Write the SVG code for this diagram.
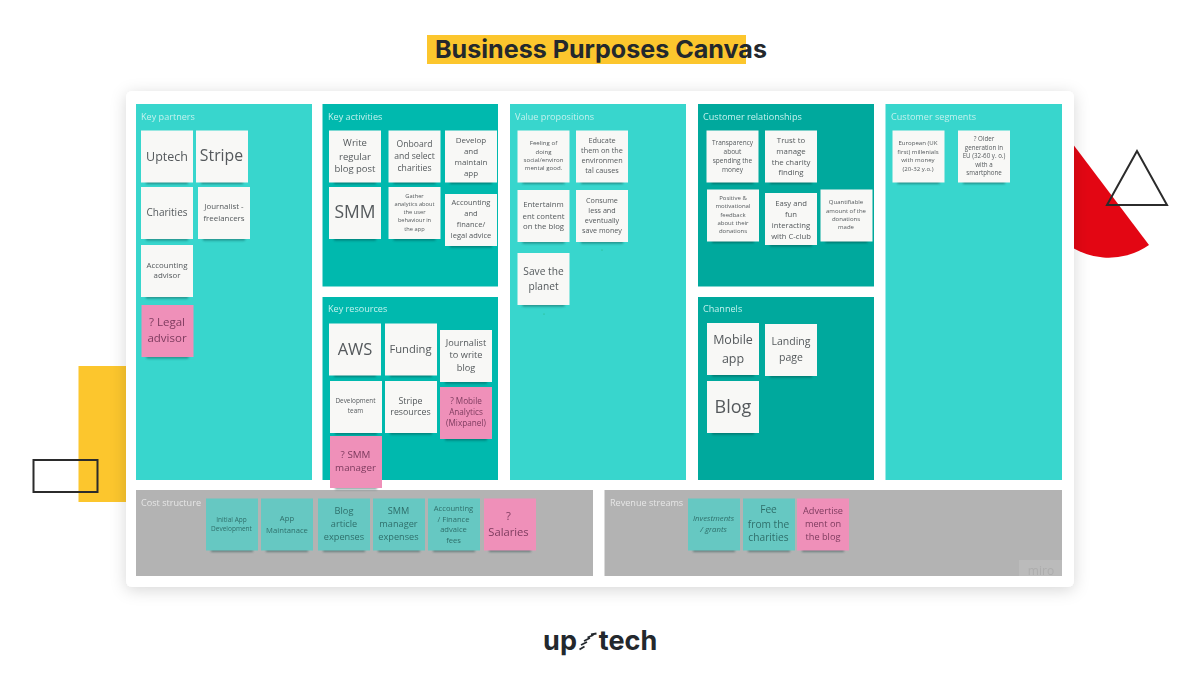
<svg xmlns="http://www.w3.org/2000/svg" width="1200" height="688" viewBox="0 0 1200 688">
<style>
text{font-family:"Open Sans","DejaVu Sans",sans-serif;text-anchor:middle;fill:#54595c}
.lbl{text-anchor:start;font-size:9.100px;fill:#c4f2ee}
.glbl{text-anchor:start;font-size:9.100px;fill:#e6e6e6}
.lt{fill:#38d6cd}.md{fill:#00b9ae}.dk{fill:#00a99d}.gr{fill:#b3b3b3}
.tt text{fill:#2f6f6b}.pk text{fill:#7d3b5e}
</style>
<defs>
<filter id="card" x="-5%" y="-5%" width="110%" height="112%"><feDropShadow dx="0" dy="3" stdDeviation="8" flood-color="#000" flood-opacity=".16"/></filter>
<filter id="sb" x="-30%" y="-200%" width="160%" height="500%"><feGaussianBlur stdDeviation="1.100"/></filter>
<filter id="soft" x="0" y="0" width="100%" height="100%"><feGaussianBlur stdDeviation=".4"/></filter>
<g id="n"><rect x="5" y="50" width="42" height="3.500" fill="#0b3a38" opacity=".45" filter="url(#sb)"/><rect width="52" height="52"/></g>
</defs>
<rect width="1200" height="688" fill="#fff"/>
<g id="decor">
<rect x="78.500" y="366" width="50" height="136" fill="#fcc62d"/>
<path d="M1060 127L1149 245A70 70 0 0 1 1060 238Z" fill="#e30613"/>
</g>
<rect id="card-bg" x="126" y="91" width="948" height="496" rx="6" fill="#fff" filter="url(#card)"/>
<g id="decor-lines" fill="none" stroke="#2b2b2b" stroke-width="2">
<rect x="33.500" y="460" width="64" height="32"/>
<path d="M1137 151L1107 205H1167Z"/>
</g>
<g id="title">
<rect x="427" y="35" width="319" height="29" fill="#fcc62d"/>
<text x="601" y="57.500" textLength="332" lengthAdjust="spacingAndGlyphs" style="font-family:Inter,'Liberation Sans',sans-serif;font-weight:700;font-size:24.500px;fill:#23282d">Business Purposes Canvas</text>
</g>
<g id="board" filter="url(#soft)">
<g id="key-partners"><rect class="lt" x="136" y="104" width="176" height="376"/><text class="lbl" x="141" y="119.500">Key partners</text></g>
<g id="key-activities"><rect class="md" x="322.500" y="104" width="175.500" height="182.500"/><text class="lbl" x="328" y="119.500">Key activities</text></g>
<g id="key-resources"><rect class="md" x="322.500" y="297" width="175.500" height="183"/><text class="lbl" x="328" y="312">Key resources</text></g>
<g id="value-propositions"><rect class="lt" x="510" y="104" width="176" height="376"/><text class="lbl" x="515" y="119.500">Value propositions</text></g>
<g id="customer-relationships"><rect class="dk" x="698" y="104" width="176" height="182.500"/><text class="lbl" x="703" y="119.500">Customer relationships</text></g>
<g id="channels"><rect class="dk" x="698" y="297" width="176" height="183"/><text class="lbl" x="703" y="312">Channels</text></g>
<g id="customer-segments"><rect class="lt" x="885.500" y="104" width="176.500" height="376"/><text class="lbl" x="891" y="119.500">Customer segments</text></g>
<g id="cost-structure"><rect class="gr" x="136" y="490" width="457" height="86"/><text class="glbl" x="141" y="505.500">Cost structure</text></g>
<g id="revenue-streams"><rect class="gr" x="604.500" y="490" width="457.500" height="86"/><text class="glbl" x="610" y="505.500">Revenue streams</text></g>
<g id="miro"><rect x="1019" y="560" width="43" height="16" fill="#bbb"/><text x="1041" y="575" font-size="12" style="fill:#adadad">miro</text></g>

<g fill="#f8f8f6">
<g id="s-uptech"><use href="#n" x="141" y="130.500"/><text x="167" y="161" font-size="12.500">Uptech</text></g>
<g id="s-stripe"><use href="#n" x="196" y="130.500"/><text x="221.500" y="161" font-size="15.800">Stripe</text></g>
<g id="s-charities"><use href="#n" x="141" y="187"/><text x="167" y="216" font-size="10">Charities</text></g>
<g id="s-journalist"><use href="#n" x="198" y="187"/><text font-size="7.900"><tspan x="224" y="209">Journalist -</tspan><tspan x="224" y="221">freelancers</tspan></text></g>
<g id="s-acc-advisor"><use href="#n" x="141" y="245"/><text font-size="7.900"><tspan x="167" y="268">Accounting</tspan><tspan x="167" y="278">advisor</tspan></text></g>

<g id="s-write"><use href="#n" x="329" y="130.500"/><text font-size="9.500"><tspan x="355" y="146">Write</tspan><tspan x="355" y="159.500">regular</tspan><tspan x="355" y="172">blog post</tspan></text></g>
<g id="s-onboard"><use href="#n" x="388.500" y="130.500"/><text font-size="8.600"><tspan x="414.500" y="147">Onboard</tspan><tspan x="414.500" y="159">and select</tspan><tspan x="414.500" y="171">charities</tspan></text></g>
<g id="s-develop"><use href="#n" x="445" y="130.500"/><text font-size="8"><tspan x="471" y="143">Develop</tspan><tspan x="471" y="154">and</tspan><tspan x="471" y="165">maintain</tspan><tspan x="471" y="175.500">app</tspan></text></g>
<g id="s-smm"><use href="#n" x="329" y="187"/><text x="355" y="218" font-size="17.500">SMM</text></g>
<g id="s-gather"><use href="#n" x="388.500" y="187"/><text font-size="5.700"><tspan x="414.500" y="197.500">Gather</tspan><tspan x="414.500" y="205.500">analytics about</tspan><tspan x="414.500" y="214">the user</tspan><tspan x="414.500" y="222">behaviour in</tspan><tspan x="414.500" y="230.500">the app</tspan></text></g>
<g id="s-accounting"><use href="#n" x="445" y="194"/><text font-size="7.500"><tspan x="471" y="205">Accounting</tspan><tspan x="471" y="216">and</tspan><tspan x="471" y="227">finance/</tspan><tspan x="471" y="238">legal advice</tspan></text></g>

<g id="s-aws"><use href="#n" x="329" y="323.500"/><text x="355" y="355" font-size="16.500">AWS</text></g>
<g id="s-funding"><use href="#n" x="385" y="323.500"/><text x="410.500" y="352.500" font-size="11.200">Funding</text></g>
<g id="s-journalist-blog"><use href="#n" x="440" y="330"/><text font-size="9.200"><tspan x="466" y="345.500">Journalist</tspan><tspan x="466" y="358">to write</tspan><tspan x="466" y="370.500">blog</tspan></text></g>
<g id="s-dev-team"><use href="#n" x="330" y="381"/><text font-size="6.400"><tspan x="355.500" y="403">Development</tspan><tspan x="355.500" y="412.500">team</tspan></text></g>
<g id="s-stripe-res"><use href="#n" x="385" y="381"/><text font-size="8.800"><tspan x="410.500" y="403.500">Stripe</tspan><tspan x="410.500" y="415">resources</tspan></text></g>

<g id="s-feeling"><use href="#n" x="517.500" y="130.500"/><text font-size="6.100"><tspan x="543.500" y="145">Feeling of</tspan><tspan x="543.500" y="153.500">doing</tspan><tspan x="543.500" y="162">social/environ</tspan><tspan x="543.500" y="170">mental good.</tspan></text></g>
<g id="s-educate"><use href="#n" x="576" y="130.500"/><text font-size="7.300"><tspan x="602" y="142.500">Educate</tspan><tspan x="602" y="152.500">them on the</tspan><tspan x="602" y="163">environmen</tspan><tspan x="602" y="173">tal causes</tspan></text></g>
<g id="s-entertain"><use href="#n" x="517.500" y="190"/><text font-size="7.800"><tspan x="543.500" y="207">Entertainm</tspan><tspan x="543.500" y="219">ent content</tspan><tspan x="543.500" y="229">on the blog</tspan></text></g>
<g id="s-consume"><use href="#n" x="576" y="190"/><text font-size="7.200"><tspan x="602" y="202.500">Consume</tspan><tspan x="602" y="213">less and</tspan><tspan x="602" y="223">eventually</tspan><tspan x="602" y="233">save money</tspan></text></g>
<g id="s-save"><use href="#n" x="517.500" y="253"/><text font-size="10.200"><tspan x="543.500" y="275">Save the</tspan><tspan x="543.500" y="290">planet</tspan></text></g>

<g id="s-transparency"><use href="#n" x="706.500" y="130.500"/><text font-size="6.500"><tspan x="732.500" y="144.500">Transparency</tspan><tspan x="732.500" y="153.500">about</tspan><tspan x="732.500" y="162.500">spending the</tspan><tspan x="732.500" y="171.500">money</tspan></text></g>
<g id="s-trust"><use href="#n" x="765" y="130.500"/><text font-size="7.800"><tspan x="791" y="142.500">Trust to</tspan><tspan x="791" y="153.500">manage</tspan><tspan x="791" y="164.500">the charity</tspan><tspan x="791" y="175">finding</tspan></text></g>
<g id="s-positive"><use href="#n" x="707" y="189.500"/><text font-size="6"><tspan x="733" y="200">Positive &amp;</tspan><tspan x="733" y="208">motivational</tspan><tspan x="733" y="216.500">feedback</tspan><tspan x="733" y="224.500">about their</tspan><tspan x="733" y="233">donations</tspan></text></g>
<g id="s-easy"><use href="#n" x="765" y="193"/><text font-size="7.700"><tspan x="791" y="205.500">Easy and</tspan><tspan x="791" y="217">fun</tspan><tspan x="791" y="227.500">interacting</tspan><tspan x="791" y="238.500">with C-club</tspan></text></g>
<g id="s-quant"><use href="#n" x="820.500" y="189.500"/><text font-size="6"><tspan x="846" y="204">Quantifiable</tspan><tspan x="846" y="212.500">amount of the</tspan><tspan x="846" y="221">donations</tspan><tspan x="846" y="229">made</tspan></text></g>

<g id="s-mobile"><use href="#n" x="707" y="323"/><text font-size="12.500"><tspan x="733" y="344">Mobile</tspan><tspan x="733" y="363">app</tspan></text></g>
<g id="s-landing"><use href="#n" x="765" y="324"/><text font-size="10.500"><tspan x="791" y="345">Landing</tspan><tspan x="791" y="361">page</tspan></text></g>
<g id="s-blog"><use href="#n" x="707" y="381"/><text x="733" y="412.500" font-size="18">Blog</text></g>

<g id="s-european"><use href="#n" x="892.500" y="130.500"/><text font-size="6.100"><tspan x="918" y="145">European (UK</tspan><tspan x="918" y="153.500">first) millenials</tspan><tspan x="918" y="162">with money</tspan><tspan x="918" y="170.500">(20-32 y.o.)</tspan></text></g>
<g id="s-older"><use href="#n" x="958" y="130.500"/><text font-size="6.200"><tspan x="984" y="141">? Older</tspan><tspan x="984" y="149.500">generation in</tspan><tspan x="984" y="158">EU (32-60 y. o.)</tspan><tspan x="984" y="166.500">with a</tspan><tspan x="984" y="175">smartphone</tspan></text></g>
</g>

<g fill="#ef90b9" class="pk">
<g id="s-legal"><use href="#n" x="141.500" y="305"/><text font-size="11.500"><tspan x="167" y="326">? Legal</tspan><tspan x="167" y="342">advisor</tspan></text></g>
<g id="s-mobile-analytics"><use href="#n" x="440" y="387"/><text font-size="8.200"><tspan x="466" y="403.500">? Mobile</tspan><tspan x="466" y="414.500">Analytics</tspan><tspan x="466" y="425.500">(Mixpanel)</tspan></text></g>
<g id="s-smm-manager"><use href="#n" x="330" y="436"/><text font-size="9.800"><tspan x="355.500" y="458">? SMM</tspan><tspan x="355.500" y="471">manager</tspan></text></g>
<g id="s-salaries"><use href="#n" x="484" y="498.500"/><text font-size="11.200"><tspan x="508.500" y="519.500">?</tspan><tspan x="508.500" y="535.500">Salaries</tspan></text></g>
<g id="s-advert"><use href="#n" x="797" y="498.500"/><text font-size="9.200"><tspan x="823" y="514">Advertise</tspan><tspan x="823" y="527">ment on</tspan><tspan x="823" y="540">the blog</tspan></text></g>
</g>

<g fill="#66c8c2" class="tt">
<g id="s-initial"><use href="#n" x="206" y="498.500"/><text font-size="6.500"><tspan x="231.500" y="521.500">Initial App</tspan><tspan x="231.500" y="531">Development</tspan></text></g>
<g id="s-app"><use href="#n" x="261" y="498.500"/><text font-size="7.700"><tspan x="287" y="521">App</tspan><tspan x="287" y="532.500">Maintanace</tspan></text></g>
<g id="s-article"><use href="#n" x="318" y="498.500"/><text font-size="9.200"><tspan x="344" y="514">Blog</tspan><tspan x="344" y="527">article</tspan><tspan x="344" y="540">expenses</tspan></text></g>
<g id="s-smm-exp"><use href="#n" x="373" y="498.500"/><text font-size="9.200"><tspan x="398.500" y="514">SMM</tspan><tspan x="398.500" y="527">manager</tspan><tspan x="398.500" y="540">expenses</tspan></text></g>
<g id="s-acc-fees"><use href="#n" x="428" y="498.500"/><text font-size="7.600"><tspan x="453.500" y="511">Accounting</tspan><tspan x="453.500" y="521.500">/ Finance</tspan><tspan x="453.500" y="532">advaice</tspan><tspan x="453.500" y="542.500">fees</tspan></text></g>
<g id="s-invest"><use href="#n" x="688" y="498.500"/><text font-size="7.800" font-style="italic"><tspan x="713.500" y="520.500">Investments</tspan><tspan x="713.500" y="532">/ grants</tspan></text></g>
<g id="s-fee"><use href="#n" x="743" y="498.500"/><text font-size="10.200"><tspan x="768.500" y="513">Fee</tspan><tspan x="768.500" y="527.500">from the</tspan><tspan x="768.500" y="541">charities</tspan></text></g>
</g>
<circle cx="602" cy="250" r=".5" fill="#2a6"/><circle cx="544" cy="314" r=".5" fill="#2a6"/>
</g>
<g id="logo">
<text x="560" y="649.500" style="font-family:Inter,'Liberation Sans',sans-serif;font-weight:700;font-size:27px;fill:#23282d">up</text>
<text x="628" y="649.500" style="font-family:Inter,'Liberation Sans',sans-serif;font-weight:700;font-size:27px;fill:#23282d">tech</text>
<path d="M579.500 649.500l5-3M581 645l6-3M584 641l6-3M587.500 637.500l6-2.500M591 634.500l5.500-1" fill="none" stroke="#23282d" stroke-width="1.800"/>
</g>
</svg>
